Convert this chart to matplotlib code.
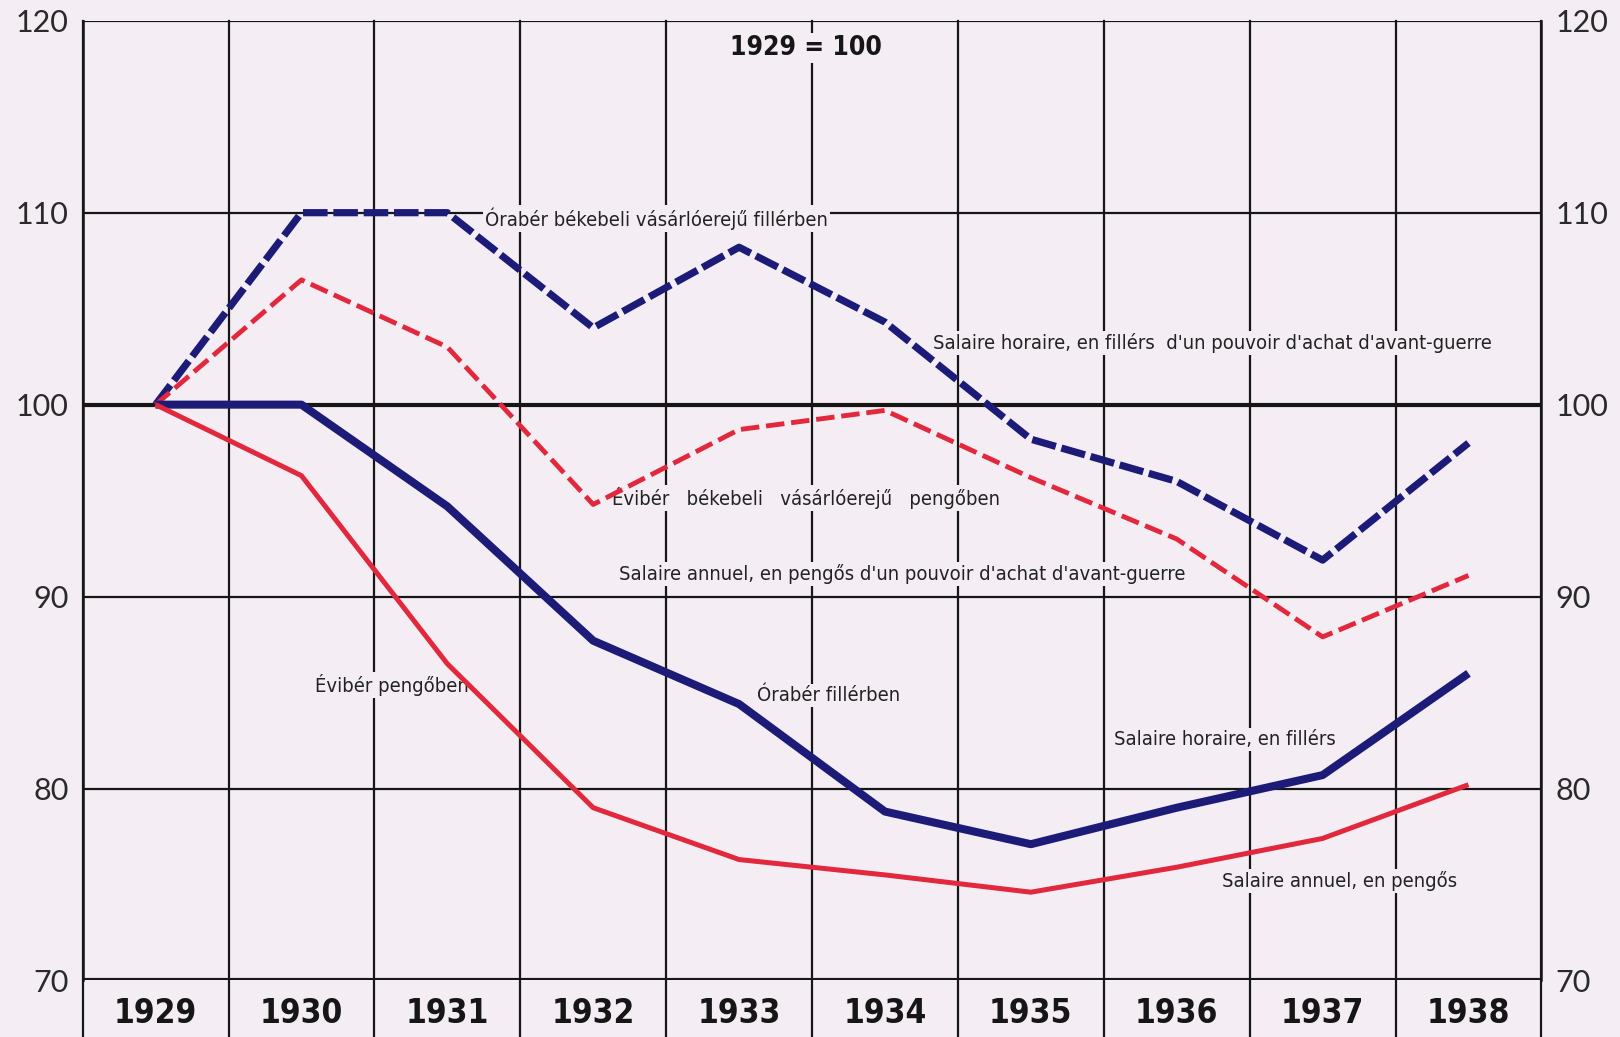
import matplotlib.pyplot as plt

# values (1929 = 100)
years = ['1929', '1930', '1931', '1932', '1933', '1934', '1935', '1936', '1937', '1938']
hourly_real = [100, 110, 110, 104.0, 108.2, 104.3, 98.2, 96.0, 91.9, 98.0]
annual_real = [100, 106.5, 103.0, 94.8, 98.7, 99.7, 96.2, 93.0, 87.9, 91.1]
hourly_nominal = [100, 100, 94.7, 87.7, 84.4, 78.8, 77.1, 79.0, 80.7, 86.0]
annual_nominal = [100, 96.3, 86.5, 79.0, 76.3, 75.5, 74.6, 75.9, 77.4, 80.2]
y_ticks = [70, 80, 90, 100, 110, 120]

paper = '#f4eef4'
ink = '#161616'
navy = '#1c1c78'
red = '#e2283c'

fig = plt.figure(figsize=(16.2, 10.37), dpi=100, facecolor=paper)
ax = fig.add_axes([0.051, 0.0545, 0.9005, 0.9255], facecolor=paper)

x = list(range(len(years)))
ax.set_xlim(-0.5, len(years) - 0.5)
ax.set_ylim(70, 120)

# grid: horizontal lines at the ticks, vertical lines between years
for v in y_ticks:
    lw = 3.0 if v in (70, 100) else 1.6
    ax.axhline(v, color=ink, lw=lw, zorder=1)
for b in range(len(years) + 1):
    ax.plot([b - 0.5, b - 0.5], [67.0, 120], color=ink, lw=1.6, zorder=1, clip_on=False)

# lines
ax.plot(x, hourly_real, color=navy, lw=5.2, linestyle=(0, (3.4, 0.8)), zorder=4)
ax.plot(x, annual_real, color=red, lw=3.5, linestyle=(0, (3.8, 1.4)), zorder=4)
ax.plot(x, hourly_nominal, color=navy, lw=5.8, solid_capstyle='butt', zorder=4)
ax.plot(x, annual_nominal, color=red, lw=3.6, solid_capstyle='butt', zorder=4)

# labels on the chart
box = dict(facecolor=paper, edgecolor='none', pad=1.5)
txt = dict(family='DejaVu Sans', fontstretch='condensed', fontsize=14.5, color='#222222',
           va='center', ha='left', bbox=box, zorder=3)
ax.text(2.26, 109.7, 'Órabér békebeli vásárlóerejű fillérben', **txt)
ax.text(5.33, 103.2, "Salaire horaire, en fillérs  d'un pouvoir d'achat d'avant-guerre", **txt)
ax.text(3.13, 95.15, 'Évibér   békebeli   vásárlóerejű   pengőben', **txt)
ax.text(3.18, 91.2, "Salaire annuel, en pengős d'un pouvoir d'achat d'avant-guerre", **txt)
ax.text(1.09, 85.4, 'Évibér pengőben', **txt)
ax.text(4.12, 84.85, 'Órabér fillérben', **txt)
ax.text(6.57, 82.55, 'Salaire horaire, en fillérs', **txt)
ax.text(7.31, 75.2, 'Salaire annuel, en pengős', **txt)
ax.text(4.46, 118.6, '1929 = 100', family='DejaVu Sans', fontstretch='condensed',
        fontsize=19, fontweight='bold', color=ink, ha='center', va='center',
        bbox=box, zorder=3)

# axes text
ax.set_xticks(x)
ax.set_xticklabels(years, family='DejaVu Sans', fontstretch='condensed', fontsize=24,
                   fontweight='bold', color=ink)
ax.set_yticks(y_ticks)
ax.set_yticklabels([str(v) for v in y_ticks], family='Lato', fontsize=22, color='#2a2a2a')
ax.tick_params(axis='x', length=0, pad=12)
ax.tick_params(axis='y', length=0, pad=10, labelright=True)
for s in ax.spines.values():
    s.set_color(ink)
    s.set_linewidth(1.8)
    s.set_zorder(1)
ax.spines['top'].set_visible(False)
ax.spines['bottom'].set_visible(False)

fig.savefig('out.png', dpi=100, facecolor=paper)
